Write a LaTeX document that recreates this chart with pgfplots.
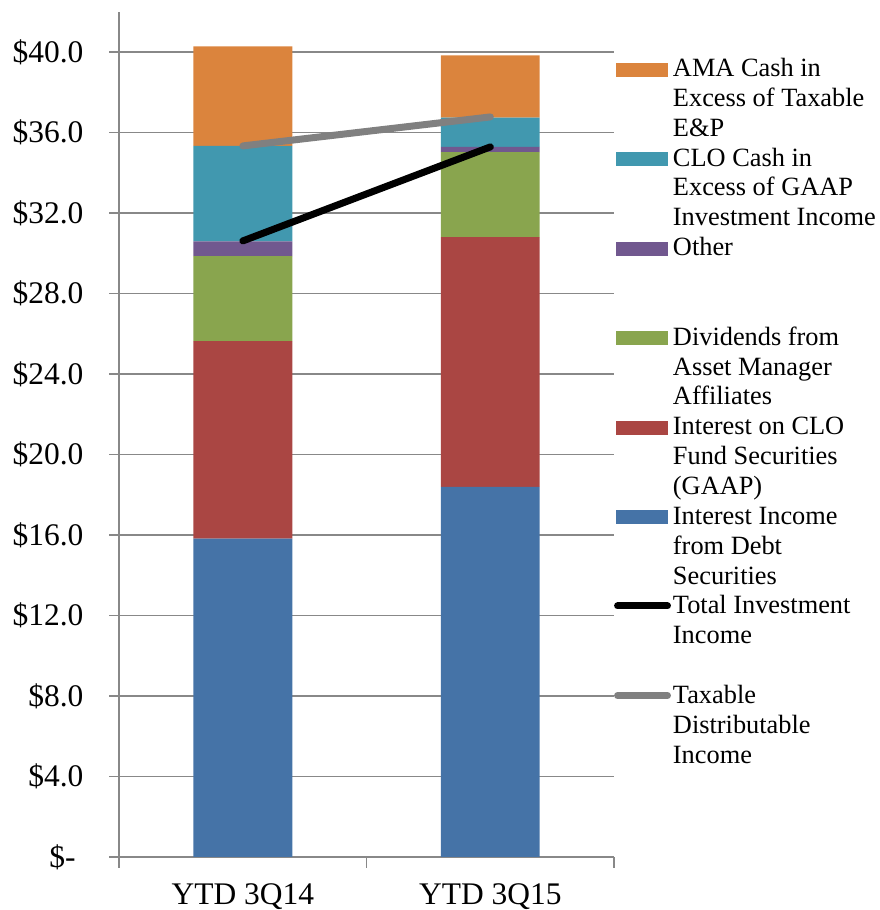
\documentclass[border=0pt]{standalone}
\usepackage{pgfplots}
\pgfplotsset{compat=1.18}
\usepackage{fontspec}
\setmainfont{Liberation Serif}
\definecolor{cBlue}{HTML}{4573A7}
\definecolor{cRed}{HTML}{AA4643}
\definecolor{cGreen}{HTML}{89A54E}
\definecolor{cPurple}{HTML}{71588F}
\definecolor{cTeal}{HTML}{4198AF}
\definecolor{cOrange}{HTML}{DB843D}
\definecolor{cLine}{HTML}{808080}
\definecolor{gridgray}{HTML}{888888}
\newcommand{\legthree}[3]{\vtop{\hbox{\strut #1}\hbox{\strut #2}\hbox{\strut #3}}}
\pgfplotsset{
  barleg/.style={legend image code/.code={\path[draw=none,fill=none] (0pt,0pt) rectangle (57pt,14pt); \fill[##1] (2pt,0pt) rectangle (54pt,14pt);}},
  blackleg/.style={legend image code/.code={\path[draw=none,fill=none] (0pt,0pt) rectangle (57pt,14pt); \draw[draw=black, line width=7pt, line cap=round] (3.5pt,8pt) -- (53.5pt,8pt);}},
  grayleg/.style={legend image code/.code={\path[draw=none,fill=none] (0pt,0pt) rectangle (57pt,14pt); \draw[draw=cLine, line width=7pt, line cap=round] (3.5pt,8pt) -- (53.5pt,8pt);}},
}
\begin{document}
\begin{tikzpicture}
\path (0,0) rectangle (881pt,910pt);
\begin{axis}[
  at={(119.3pt,51.7pt)}, anchor=south west,
  scale only axis, width=495.7pt, height=846.6pt,
  set layers,
  ybar stacked, bar width=99pt,
  xmin=-0.5, xmax=1.5, ymin=0, ymax=42,
  xtick={0,1}, xticklabels={YTD 3Q14, YTD 3Q15},
  minor xtick={-0.5,0.5,1.5},
  ytick={0,4,...,40},
  yticklabels={\$-\kern0.25em, \$4.0, \$8.0, \$12.0, \$16.0, \$20.0, \$24.0, \$28.0, \$32.0, \$36.0, \$40.0},
  axis x line=bottom, axis y line=left,
  axis line style={-, draw=gridgray, line width=1.8pt},
  ymajorgrids, major grid style={draw=gridgray, line width=1.8pt},
  tick align=outside,
  major tick length=10pt, minor tick length=11pt,
  major x tick style={draw=none},
  minor x tick style={draw=gridgray, line width=1.8pt},
  y tick style={draw=gridgray, line width=1.8pt},
  tick label style={font=\fontsize{31.5}{36}\selectfont},
  yticklabel style={anchor=base east, inner sep=0pt, xshift=-25.5pt, yshift=-10.3pt},
  xticklabel style={anchor=base, inner sep=0pt, yshift=-38pt},
  legend style={draw=none, fill=none, inner sep=0pt, outer sep=0pt,
    at={(1.0,0.9479)}, anchor=north west,
    font=\fontsize{26.4}{29.9}\selectfont,
    column sep=2pt, row sep=0pt,
    nodes={inner sep=0pt, outer sep=0pt, text height=20.9pt, text depth=68.8pt},
    cells={anchor=base west}},
  reverse legend,
]
\addplot[sharp plot, stack plots=false, no markers, draw=cLine, line width=7pt, line cap=round, on layer=axis foreground, grayleg]
  coordinates {(0,35.33) (1,36.77)};
\addlegendentry{\legthree{Taxable}{Distributable}{Income}}
\addplot[sharp plot, stack plots=false, no markers, draw=black, line width=7pt, line cap=round, on layer=axis foreground, blackleg]
  coordinates {(0,30.61) (1,35.28)};
\addlegendentry{\legthree{Total Investment}{Income}{}}
\addplot[fill=cBlue, draw=none, barleg] coordinates {(0,15.82) (1,18.39)};
\addlegendentry{\legthree{Interest Income}{from Debt}{Securities}}
\addplot[fill=cRed, draw=none, barleg] coordinates {(0,9.81) (1,12.41)};
\addlegendentry{\legthree{Interest on CLO}{Fund Securities}{(GAAP)}}
\addplot[fill=cGreen, draw=none, barleg] coordinates {(0,4.22) (1,4.22)};
\addlegendentry{\legthree{Dividends from}{Asset Manager}{Affiliates}}
\addplot[fill=cPurple, draw=none, barleg] coordinates {(0,0.74) (1,0.26)};
\addlegendentry{\legthree{Other}{}{}}
\addplot[fill=cTeal, draw=none, barleg] coordinates {(0,4.74) (1,1.46)};
\addlegendentry{\legthree{CLO Cash in}{Excess of GAAP}{Investment Income}}
\addplot[fill=cOrange, draw=none, barleg] coordinates {(0,4.94) (1,3.09)};
\addlegendentry{\legthree{AMA Cash in}{Excess of Taxable}{E\&P}}
\end{axis}
\end{tikzpicture}
\end{document}
